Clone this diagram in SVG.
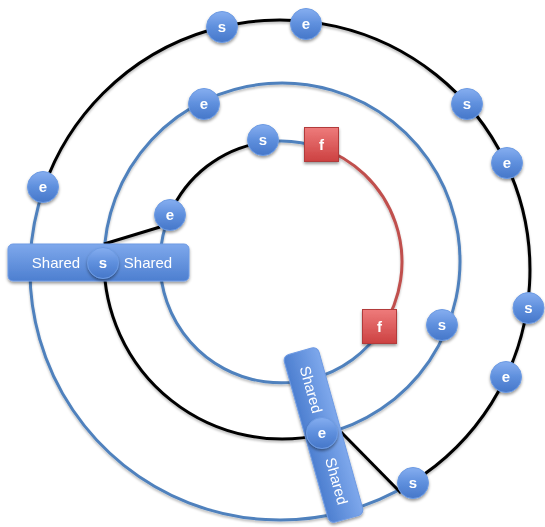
<svg xmlns="http://www.w3.org/2000/svg" width="545" height="527" viewBox="0 0 545 527">
<defs>
<linearGradient id="gBlue" x1="0" y1="0" x2="0" y2="1">
<stop offset="0" stop-color="#86aef0"/>
<stop offset="0.5" stop-color="#5e8fdd"/>
<stop offset="1" stop-color="#4677c9"/>
</linearGradient>
<linearGradient id="gBox" x1="0" y1="0" x2="0" y2="1">
<stop offset="0" stop-color="#7ea8ec"/>
<stop offset="1" stop-color="#4d7fd0"/>
</linearGradient>
<linearGradient id="gBoxV" x1="0" y1="0" x2="1" y2="0">
<stop offset="0" stop-color="#4d7fd0"/>
<stop offset="1" stop-color="#7ea8ec"/>
</linearGradient>
<linearGradient id="gRed" x1="0" y1="0" x2="0" y2="1">
<stop offset="0" stop-color="#ee7b7b"/>
<stop offset="1" stop-color="#cc4141"/>
</linearGradient>
<filter id="sh" x="-30%" y="-30%" width="160%" height="170%">
<feDropShadow dx="0" dy="2" stdDeviation="1.6" flood-color="#000" flood-opacity="0.4"/>
</filter>
<filter id="lsh" x="-10%" y="-10%" width="120%" height="120%">
<feDropShadow dx="0" dy="2" stdDeviation="1.2" flood-color="#000" flood-opacity="0.25"/>
</filter>
</defs>
<style>
.blue{fill:none;stroke:#4f81bd;stroke-width:3}
.black{fill:none;stroke:#000;stroke-width:3}
.red{fill:none;stroke:#c0504d;stroke-width:3}
.node circle{fill:url(#gBlue);stroke:#6d9be3;stroke-width:1}
.node text,.fn text{font-family:"Liberation Sans",Arial,sans-serif;font-weight:bold;font-size:15px;fill:#fff;text-anchor:middle}
.fn rect{fill:url(#gRed);stroke:#b23a3a;stroke-width:1}
.box{fill:url(#gBox);stroke:#6f9be4;stroke-width:1}
.lbl{font-family:"Liberation Sans",Arial,sans-serif;font-size:15px;fill:#fff;text-anchor:middle}
</style>
<g id="connectors" filter="url(#lsh)">
<path class="black" d="M44,187.4 A250,250 0 1 1 412.5,482"/>
<path class="blue" d="M412.5,482 A250,250 0 0 1 44,187.4"/>
<path class="blue" d="M104,261 A178,178 0 1 1 322.3,434.4"/>
<path class="black" d="M322.3,434.4 A178,178 0 0 1 104,261"/>
<path class="black" d="M169.6,214.8 A121,121 0 0 1 263.3,142.3"/>
<path class="blue" d="M263.3,142.3 A121,121 0 0 1 320.4,147.6"/>
<path class="red" d="M320.4,147.6 A121,121 0 0 1 382.2,328.3"/>
<path class="blue" d="M382.2,328.3 A121,121 0 0 1 169.6,214.8"/>
<path class="black" d="M104,244 L160,227"/>
<path class="black" d="M341,432 L401,493"/>
</g>
<g id="shared1" filter="url(#sh)">
<rect class="box" x="8" y="244" width="181" height="37" rx="5"/>
<text class="lbl" x="56" y="268">Shared</text>
<text class="lbl" x="148" y="268">Shared</text>
</g>
<g id="shared2" filter="url(#sh)">
<g transform="translate(323.5,435) rotate(-15.6)">
<rect class="box" style="fill:url(#gBoxV)" x="-18" y="-87" width="36" height="174" rx="6"/>
<text class="lbl" transform="translate(0,-47) rotate(90)" y="5">Shared</text>
<text class="lbl" transform="translate(0,48) rotate(90)" y="5">Shared</text>
</g>
</g>
<g id="n_shared_s" class="node" filter="url(#sh)"><circle cx="103" cy="263" r="15.5"/><text x="103" y="268">s</text></g>
<g id="n_shared_e" class="node" filter="url(#sh)"><circle cx="322" cy="433" r="15.5"/><text x="322" y="438">e</text></g>
<g id="n1" class="node" filter="url(#sh)"><circle cx="222" cy="27" r="15.5"/><text x="222" y="32">s</text></g>
<g id="n2" class="node" filter="url(#sh)"><circle cx="306" cy="24" r="15.5"/><text x="306" y="29">e</text></g>
<g id="n3" class="node" filter="url(#sh)"><circle cx="467" cy="104" r="15.5"/><text x="467" y="109">s</text></g>
<g id="n4" class="node" filter="url(#sh)"><circle cx="507" cy="163" r="15.5"/><text x="507" y="168">e</text></g>
<g id="n5" class="node" filter="url(#sh)"><circle cx="528.5" cy="308" r="15.5"/><text x="528.5" y="313">s</text></g>
<g id="n6" class="node" filter="url(#sh)"><circle cx="506" cy="377" r="15.5"/><text x="506" y="382">e</text></g>
<g id="n7" class="node" filter="url(#sh)"><circle cx="413" cy="483" r="15.5"/><text x="413" y="488">s</text></g>
<g id="n8" class="node" filter="url(#sh)"><circle cx="43" cy="187" r="15.5"/><text x="43" y="192">e</text></g>
<g id="n9" class="node" filter="url(#sh)"><circle cx="204" cy="104" r="15.5"/><text x="204" y="109">e</text></g>
<g id="n10" class="node" filter="url(#sh)"><circle cx="442" cy="325" r="15.5"/><text x="442" y="330">s</text></g>
<g id="n11" class="node" filter="url(#sh)"><circle cx="263" cy="140" r="15.5"/><text x="263" y="145">s</text></g>
<g id="n12" class="node" filter="url(#sh)"><circle cx="170" cy="215" r="15.5"/><text x="170" y="220">e</text></g>
<g id="f1" class="fn" filter="url(#sh)"><rect x="304.5" y="127.5" width="34" height="34"/><text x="321.5" y="150">f</text></g>
<g id="f2" class="fn" filter="url(#sh)"><rect x="362.5" y="309.5" width="34" height="34"/><text x="379.5" y="332">f</text></g>
</svg>
